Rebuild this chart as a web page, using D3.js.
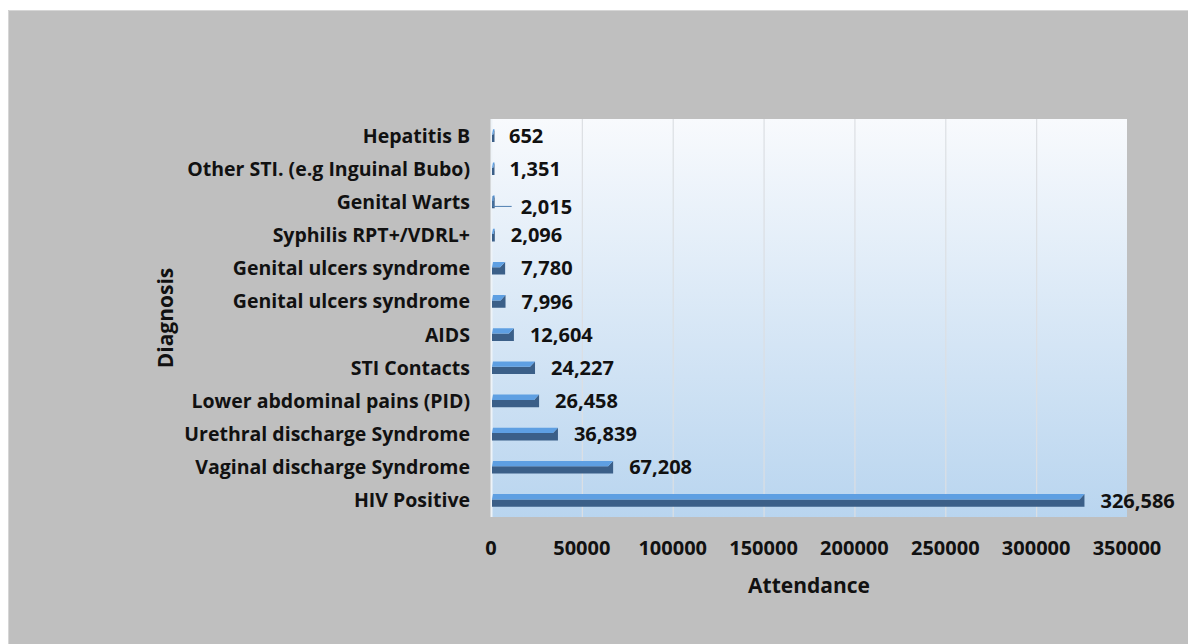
<!DOCTYPE html>
<html>
<head>
<meta charset="utf-8">
<script src="https://cdn.jsdelivr.net/npm/d3@7"></script>
<style>
  body { margin: 0; background: #fff; }
  text { font-family: 'Open Sans', Lato, sans-serif; font-weight: 700; fill: #111; }
</style>
</head>
<body>
<div id="chart_svg"></div>
<script>
const diagnoses = [
  'Hepatitis B',
  'Other STI. (e.g Inguinal Bubo)',
  'Genital Warts',
  'Syphilis RPT+/VDRL+',
  'Genital ulcers syndrome',
  'Genital ulcers syndrome',
  'AIDS',
  'STI Contacts',
  'Lower abdominal pains (PID)',
  'Urethral discharge Syndrome',
  'Vaginal discharge Syndrome',
  'HIV Positive'
]
const attendance = [652, 1351, 2015, 2096, 7780, 7996, 12604, 24227, 26458, 36839, 67208, 326586]
const xTicks = [0, 50000, 100000, 150000, 200000, 250000, 300000, 350000]

class BarChart {
  constructor(args) {
    const def = {
      el: '#chart_svg',
      width: 1188,
      height: 644,
      plot: { left: 491, top: 119, right: 1127, bottom: 517 },
      light: '#5e9fe2',
      dark: '#3b5f88'
    }
    Object.assign(this, def, args)
    this.init()
    this.draw()
  }

  init() {
    const vis = this
    vis.svg = d3.select(vis.el).append('svg')
      .attr('width', vis.width)
      .attr('height', vis.height)

    const defs = vis.svg.append('defs')
    const grad = defs.append('linearGradient')
      .attr('id', 'plotbg')
      .attr('x1', 0).attr('y1', 0).attr('x2', 0).attr('y2', 1)
    grad.append('stop').attr('offset', '0%').attr('stop-color', '#f8fafd')
    grad.append('stop').attr('offset', '100%').attr('stop-color', '#b9d5ef')

    // grey chart area
    vis.svg.append('rect')
      .attr('x', 8).attr('y', 10)
      .attr('width', vis.width - 8).attr('height', vis.height - 10)
      .attr('fill', '#bfbfbf')
    vis.svg.append('path')
      .attr('d', `M8.5,${vis.height}V10.5H${vis.width}`)
      .attr('fill', 'none')
      .attr('stroke', '#d6d6d6')

    const p = vis.plot
    vis.x = d3.scaleLinear().domain([0, 350000]).range([p.left, p.right])
    vis.y = d3.scaleBand().domain(d3.range(diagnoses.length)).range([p.top, p.bottom]).paddingInner(0.62).paddingOuter(0.31)
  }

  draw() {
    const vis = this
    const { x, y, plot: p } = vis

    vis.svg.append('rect')
      .attr('x', p.left).attr('y', p.top)
      .attr('width', p.right - p.left).attr('height', p.bottom - p.top)
      .attr('fill', 'url(#plotbg)')

    vis.svg.append('g')
      .selectAll('line')
      .data(xTicks.slice(1, -1))
      .join('line')
      .attr('x1', d => x(d) + 0.5).attr('x2', d => x(d) + 0.5)
      .attr('y1', p.top).attr('y2', p.bottom)
      .attr('stroke', '#dcdfe3')
      .attr('stroke-width', 1.2)

    vis.svg.append('line')
      .attr('x1', p.left + 0.5).attr('x2', p.left + 0.5)
      .attr('y1', p.top).attr('y2', p.bottom)
      .attr('stroke', '#eef3f8')
      .attr('stroke-width', 2)

    // bars: light top strip + dark lower strip, slanted end cap
    const bars = vis.svg.append('g')
      .selectAll('g')
      .data(attendance)
      .join('g')

    const geom = (d, i) => {
      const x0 = x(0) + 1
      const x1 = Math.max(x(d), x0 + 2.5)
      const top = y(i)
      const bot = top + y.bandwidth()
      const mid = top + y.bandwidth() * 0.42
      const cap = Math.min(5, (x1 - x0) / 2)
      return { x0, x1, top, bot, mid, cap }
    }

    bars.append('path')
      .attr('fill', vis.dark)
      .attr('d', (d, i) => {
        const g = geom(d, i)
        return `M${g.x0},${g.mid}L${g.x1 - g.cap},${g.mid}L${g.x1},${g.top}L${g.x1},${g.bot}L${g.x0},${g.bot}Z`
      })
    bars.append('path')
      .attr('fill', vis.light)
      .attr('d', (d, i) => {
        const g = geom(d, i)
        return `M${g.x0 + 1},${g.top}L${g.x1},${g.top}L${g.x1 - g.cap},${g.mid}L${g.x0},${g.mid}Z`
      })

    // value labels (Genital Warts label was nudged down with a leader line)
    const fmt = d3.format(',d')
    const nudged = 2
    vis.svg.append('path')
      .attr('d', () => {
        const i = nudged
        const cy = y(i) + y.bandwidth() / 2
        return `M${x(0) + 2},${cy - 6}V${cy + 4.5}H${x(attendance[i]) + 17}`
      })
      .attr('fill', 'none')
      .attr('stroke', '#4f7fb0')
      .attr('stroke-width', 1)

    vis.svg.append('g')
      .selectAll('text')
      .data(attendance)
      .join('text')
      .attr('x', (d, i) => Math.max(x(d), x(0) + 2) + (i === nudged ? 26 : 16))
      .attr('y', (d, i) => y(i) + y.bandwidth() / 2 + (i === nudged ? 5 : 0))
      .attr('dy', '0.36em')
      .style('font-size', '20px')
      .text(d => fmt(d))

    // category axis
    vis.svg.append('g')
      .selectAll('text')
      .data(diagnoses)
      .join('text')
      .attr('x', p.left - 21)
      .attr('y', (d, i) => y(i) + y.bandwidth() / 2)
      .attr('dy', '0.36em')
      .attr('text-anchor', 'end')
      .style('font-size', '19.5px')
      .text(d => d)

    // value axis
    vis.svg.append('g')
      .selectAll('text')
      .data(xTicks)
      .join('text')
      .attr('x', d => x(d))
      .attr('y', 555)
      .attr('text-anchor', 'middle')
      .style('font-size', '20px')
      .text(d => d)

    vis.svg.append('text')
      .attr('x', (p.left + p.right) / 2)
      .attr('y', 593)
      .attr('text-anchor', 'middle')
      .style('font-size', '21px')
      .text('Attendance')

    vis.svg.append('text')
      .attr('transform', `translate(173,${(p.top + p.bottom) / 2}) rotate(-90)`)
      .attr('text-anchor', 'middle')
      .style('font-size', '21px')
      .text('Diagnosis')
  }
}

const chart = new BarChart()
</script>
</body>
</html>
